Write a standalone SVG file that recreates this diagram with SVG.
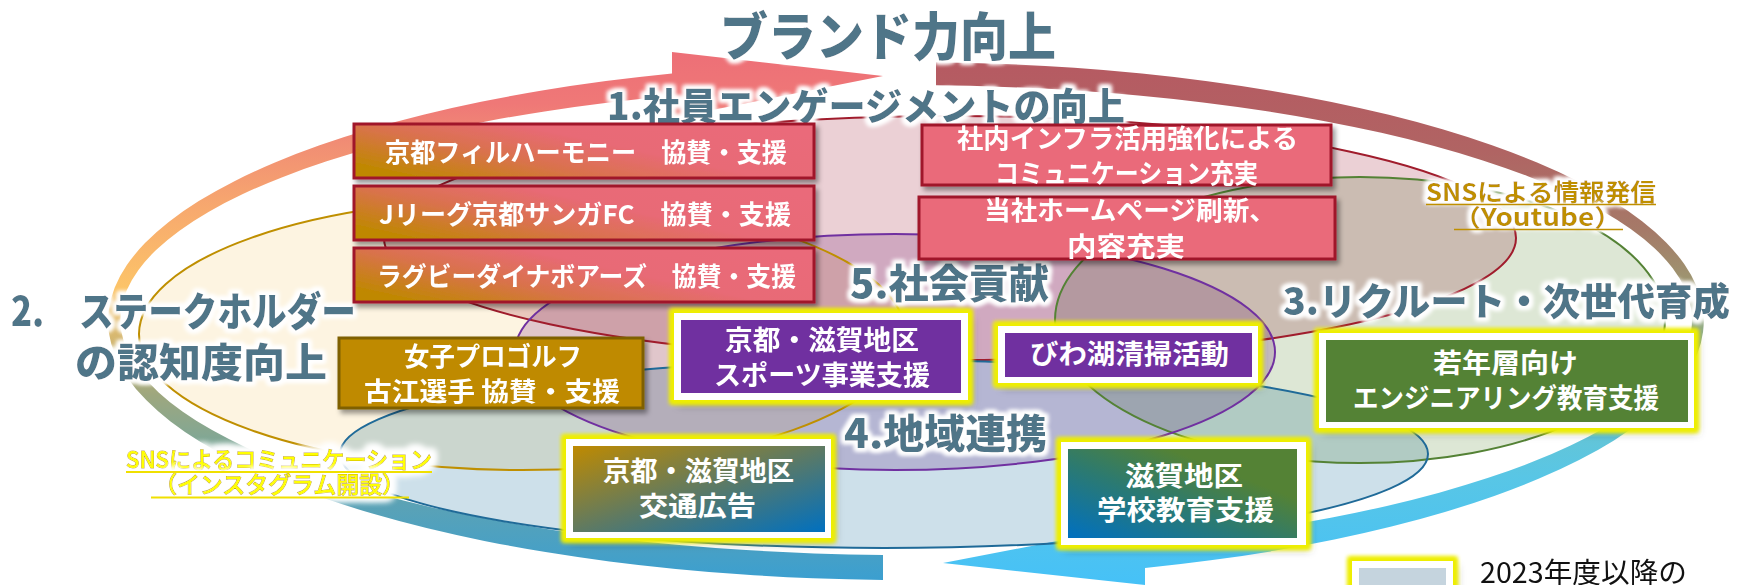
<svg xmlns="http://www.w3.org/2000/svg" width="1746" height="585" viewBox="0 0 1746 585">
<defs>
<style>
.t{font-family:"Noto Sans CJK JP","Noto Sans CJK SC",sans-serif;font-weight:700}
.title{fill:#507488;font-weight:900;filter:url(#wg)}
.bt{fill:#ffffff}
.ell{mix-blend-mode:multiply}
.edge{fill:none;stroke-width:2}
.boxr{stroke:#a0182c;stroke-width:3;filter:url(#sh)}
.glowbox{fill:#ffffff;filter:url(#yg)}
.sns1{fill:#bf8f00;filter:url(#wg)}
.sns2{fill:#ffff00;stroke:#c0a000;stroke-width:1;paint-order:stroke;font-weight:500;filter:url(#wg2)}
</style>
<linearGradient id="g1" gradientUnits="userSpaceOnUse" x1="0" y1="580" x2="0" y2="50">
<stop offset="0" stop-color="#3b9fd0"/>
<stop offset="0.14" stop-color="#5aa2b6"/>
<stop offset="0.245" stop-color="#7aa79a"/>
<stop offset="0.35" stop-color="#9ea77e"/>
<stop offset="0.45" stop-color="#d2b670"/>
<stop offset="0.55" stop-color="#fcc468"/>
<stop offset="0.7" stop-color="#f7a96e"/>
<stop offset="0.82" stop-color="#f18e74"/>
<stop offset="0.9" stop-color="#ef7877"/>
<stop offset="1" stop-color="#ed6f77"/>
</linearGradient>
<linearGradient id="g2" gradientUnits="userSpaceOnUse" x1="0" y1="62" x2="0" y2="590">
<stop offset="0" stop-color="#b65a62"/>
<stop offset="0.17" stop-color="#b06463"/>
<stop offset="0.32" stop-color="#a57a68"/>
<stop offset="0.43" stop-color="#9c9a72"/>
<stop offset="0.53" stop-color="#8db08a"/>
<stop offset="0.64" stop-color="#6cc4cc"/>
<stop offset="0.79" stop-color="#58c6e6"/>
<stop offset="1" stop-color="#45c1f8"/>
</linearGradient>
<linearGradient id="gA" x1="0" y1="0.77" x2="1" y2="0.23">
<stop offset="0" stop-color="#bf8800"/>
<stop offset="0.32" stop-color="#d9724c"/>
<stop offset="0.6" stop-color="#e86a76"/>
<stop offset="1" stop-color="#ea6a7a"/>
</linearGradient>
<linearGradient id="gJ" x1="0" y1="0" x2="1" y2="1">
<stop offset="0" stop-color="#bf8a00"/>
<stop offset="0.5" stop-color="#5f7a62"/>
<stop offset="1" stop-color="#0070c0"/>
</linearGradient>
<linearGradient id="gK" x1="0" y1="1" x2="1" y2="0">
<stop offset="0" stop-color="#0070c0"/>
<stop offset="0.42" stop-color="#2c7a70"/>
<stop offset="0.72" stop-color="#548235"/>
<stop offset="1" stop-color="#548235"/>
</linearGradient>
<filter id="sh" x="-5%" y="-20%" width="112%" height="150%">
<feDropShadow dx="3" dy="4" stdDeviation="2.5" flood-color="#000" flood-opacity="0.4"/>
</filter>
<filter id="yg" x="-15%" y="-30%" width="130%" height="170%">
<feGaussianBlur in="SourceAlpha" stdDeviation="4" result="s"/>
<feOffset in="s" dx="4" dy="5" result="so"/>
<feFlood flood-color="#000" flood-opacity="0.35"/>
<feComposite in2="so" operator="in" result="shd"/>
<feMorphology in="SourceAlpha" operator="dilate" radius="4" result="d"/>
<feGaussianBlur in="d" stdDeviation="2.2" result="b"/>
<feFlood flood-color="#eeee00"/>
<feComposite in2="b" operator="in" result="y"/>
<feMerge><feMergeNode in="shd"/><feMergeNode in="y"/><feMergeNode in="y"/><feMergeNode in="SourceGraphic"/></feMerge>
</filter>
<filter id="wg" x="-5%" y="-30%" width="110%" height="160%">
<feMorphology in="SourceAlpha" operator="dilate" radius="2.5" result="d"/>
<feGaussianBlur in="d" stdDeviation="2" result="b"/>
<feFlood flood-color="#ffffff"/>
<feComposite in2="b" operator="in" result="w"/>
<feMerge><feMergeNode in="w"/><feMergeNode in="w"/><feMergeNode in="SourceGraphic"/></feMerge>
</filter>
<filter id="wg2" x="-5%" y="-40%" width="110%" height="180%">
<feMorphology in="SourceAlpha" operator="dilate" radius="5" result="d"/>
<feGaussianBlur in="d" stdDeviation="3" result="b"/>
<feFlood flood-color="#ffffff"/>
<feComposite in2="b" operator="in" result="w"/>
<feMerge><feMergeNode in="w"/><feMergeNode in="w"/><feMergeNode in="SourceGraphic"/></feMerge>
</filter>
</defs>
<rect width="1746" height="585" fill="#ffffff"/>

<g id="ring">
<path id="arrow-left" fill="url(#g1)" d="M883,579.9 A798,259 0 0 1 672,73.4 L672,52 L883,76 L672,118 L672,95.7 A786,235 0 0 0 883,554.9 Z"/>
<path id="arrow-right" fill="url(#g2)" d="M936,62.2 A798,259 0 0 1 1145,568.1 L1145,585 L943,563 L1145,524 L1145,543.9 A786,235 0 0 0 936,85.2 Z"/>
</g>

<g id="areas">
<ellipse class="ell" cx="522" cy="334" rx="383" ry="136" fill="#fdf4e1"/>
<ellipse class="ell" cx="950" cy="238" rx="566" ry="122" fill="#ebd0d5"/>
<ellipse class="ell" cx="1360" cy="320" rx="305" ry="143" fill="#dde7d5"/>
<ellipse class="ell" cx="884" cy="454" rx="544" ry="94" fill="#cde0ea"/>
<ellipse class="ell" cx="895" cy="352" rx="380" ry="118" fill="#e2cfe6"/>
<ellipse class="edge" cx="522" cy="334" rx="383" ry="136" stroke="#bf8f00"/>
<ellipse class="edge" cx="950" cy="238" rx="566" ry="122" stroke="#a01c2c"/>
<ellipse class="edge" cx="1360" cy="320" rx="305" ry="143" stroke="#548235"/>
<ellipse class="edge" cx="884" cy="454" rx="544" ry="94" stroke="#1f6a98"/>
<ellipse class="edge" cx="895" cy="352" rx="380" ry="118" stroke="#7030a0"/>
</g>

<g id="titles" class="t">
<text class="title" x="720" y="56" font-size="52" textLength="336" lengthAdjust="spacingAndGlyphs">ブランド力向上</text>
<text class="title" x="607" y="120" font-size="38" textLength="518" lengthAdjust="spacingAndGlyphs">1.社員エンゲージメントの向上</text>
<text class="title" x="11" y="326" font-size="40" textLength="345" lengthAdjust="spacingAndGlyphs">2.　ステークホルダー</text>
<text class="title" x="75" y="377" font-size="40" textLength="252" lengthAdjust="spacingAndGlyphs">の認知度向上</text>
<text class="title" x="1283" y="315" font-size="38" textLength="447" lengthAdjust="spacingAndGlyphs">3.リクルート・次世代育成</text>
<text class="title" x="844" y="448" font-size="40" textLength="203" lengthAdjust="spacingAndGlyphs">4.地域連携</text>
<text class="title" x="850" y="298" font-size="40" textLength="199" lengthAdjust="spacingAndGlyphs">5.社会貢献</text>
</g>

<g id="sns-youtube" class="t">
<text class="sns1" x="1426" y="201" font-size="24" textLength="230" lengthAdjust="spacingAndGlyphs">SNSによる情報発信</text>
<text class="sns1" x="1453" y="226" font-size="24" textLength="169" lengthAdjust="spacingAndGlyphs">（Youtube）</text>
<line x1="1426" y1="204.5" x2="1656" y2="204.5" stroke="#bf8f00" stroke-width="1.5"/>
<line x1="1454" y1="229.5" x2="1623" y2="229.5" stroke="#bf8f00" stroke-width="1.5"/>
</g>

<g id="sns-instagram" class="t">
<text class="sns2" x="126" y="468" font-size="23" textLength="306" lengthAdjust="spacingAndGlyphs">SNSによるコミュニケーション</text>
<text class="sns2" x="154" y="493" font-size="23" textLength="251" lengthAdjust="spacingAndGlyphs">（インスタグラム開設）</text>
<line x1="126" y1="472" x2="432" y2="472" stroke="#f0e000" stroke-width="2"/>
<line x1="151" y1="497.5" x2="409" y2="497.5" stroke="#f0e000" stroke-width="2"/>
</g>

<g id="box-phil">
<rect class="boxr" x="354" y="124" width="460" height="54" fill="url(#gA)"/>
<text class="t bt" x="385" y="162" font-size="26" textLength="402" lengthAdjust="spacingAndGlyphs">京都フィルハーモニー　協賛・支援</text>
</g>
<g id="box-sanga">
<rect class="boxr" x="354" y="186" width="460" height="54" fill="url(#gA)"/>
<text class="t bt" x="379" y="224" font-size="26" textLength="412" lengthAdjust="spacingAndGlyphs">Jリーグ京都サンガFC　協賛・支援</text>
</g>
<g id="box-rugby">
<rect class="boxr" x="354" y="248" width="460" height="54" fill="url(#gA)"/>
<text class="t bt" x="377" y="286" font-size="26" textLength="419" lengthAdjust="spacingAndGlyphs">ラグビーダイナボアーズ　協賛・支援</text>
</g>
<g id="box-infra">
<rect class="boxr" x="922" y="125" width="409" height="60" fill="#ea6a7a"/>
<text class="t bt" x="957" y="148" font-size="26" textLength="341" lengthAdjust="spacingAndGlyphs">社内インフラ活用強化による</text>
<text class="t bt" x="995" y="183" font-size="26" textLength="263" lengthAdjust="spacingAndGlyphs">コミュニケーション充実</text>
</g>
<g id="box-hp">
<rect class="boxr" x="919" y="197" width="416" height="62" fill="#ea6a7a"/>
<text class="t bt" x="984" y="220" font-size="26" textLength="292" lengthAdjust="spacingAndGlyphs">当社ホームページ刷新、</text>
<text class="t bt" x="1067" y="256" font-size="26" textLength="118" lengthAdjust="spacingAndGlyphs">内容充実</text>
</g>
<g id="box-golf">
<rect x="339" y="338" width="304" height="70" fill="#bf8a00" stroke="#7f6000" stroke-width="3" filter="url(#sh)"/>
<text class="t bt" x="404" y="366" font-size="26" textLength="178" lengthAdjust="spacingAndGlyphs">女子プロゴルフ</text>
<text class="t bt" x="364" y="401" font-size="26" textLength="256" lengthAdjust="spacingAndGlyphs">古江選手 協賛・支援</text>
</g>
<g id="box-sports">
<rect class="glowbox" x="674" y="313" width="294" height="87"/>
<rect x="681" y="320" width="280" height="73" fill="#7030a0"/>
<text class="t bt" x="725" y="350" font-size="27" textLength="194" lengthAdjust="spacingAndGlyphs">京都・滋賀地区</text>
<text class="t bt" x="714" y="385" font-size="27" textLength="216" lengthAdjust="spacingAndGlyphs">スポーツ事業支援</text>
</g>
<g id="box-biwako">
<rect class="glowbox" x="998" y="326" width="260" height="57"/>
<rect x="1005" y="333" width="247" height="44" fill="#7030a0"/>
<text class="t bt" x="1030" y="364" font-size="27" textLength="199" lengthAdjust="spacingAndGlyphs">びわ湖清掃活動</text>
</g>
<g id="box-engineering">
<rect class="glowbox" x="1319" y="333" width="375" height="95"/>
<rect x="1326" y="340" width="362" height="82" fill="#548235"/>
<text class="t bt" x="1433" y="373" font-size="27" textLength="145" lengthAdjust="spacingAndGlyphs">若年層向け</text>
<text class="t bt" x="1353" y="408" font-size="27" textLength="306" lengthAdjust="spacingAndGlyphs">エンジニアリング教育支援</text>
</g>
<g id="box-traffic">
<rect class="glowbox" x="566" y="439" width="265" height="99"/>
<rect x="573" y="446" width="252" height="86" fill="url(#gJ)"/>
<text class="t bt" x="603" y="481" font-size="27" textLength="191" lengthAdjust="spacingAndGlyphs">京都・滋賀地区</text>
<text class="t bt" x="639" y="516" font-size="27" textLength="117" lengthAdjust="spacingAndGlyphs">交通広告</text>
</g>
<g id="box-school">
<rect class="glowbox" x="1061" y="442" width="245" height="103"/>
<rect x="1068" y="449" width="229" height="89" fill="url(#gK)"/>
<text class="t bt" x="1125" y="486" font-size="27" textLength="118" lengthAdjust="spacingAndGlyphs">滋賀地区</text>
<text class="t bt" x="1097" y="520" font-size="27" textLength="177" lengthAdjust="spacingAndGlyphs">学校教育支援</text>
</g>

<g id="legend">
<rect class="glowbox" x="1352" y="561" width="101" height="45"/>
<rect x="1359" y="568" width="87" height="35" fill="#c5d4de"/>
<text x="1480" y="583" font-family="'Noto Sans CJK JP','Noto Sans CJK SC',sans-serif" font-size="28" fill="#111111" textLength="207" lengthAdjust="spacingAndGlyphs">2023年度以降の</text>
</g>
</svg>
